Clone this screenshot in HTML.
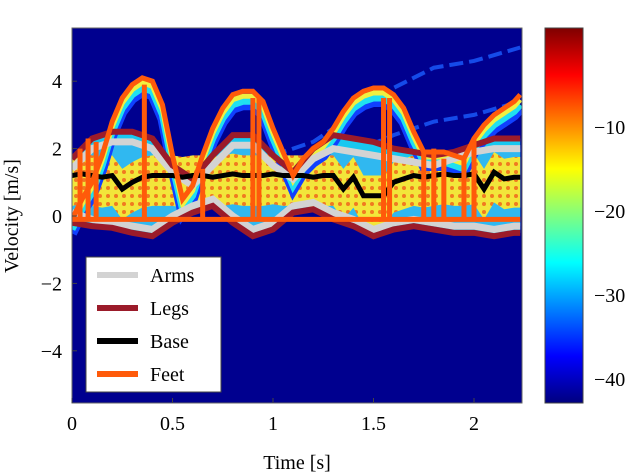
<!DOCTYPE html>
<html><head><meta charset="utf-8"><style>
body{margin:0;background:#fff;}
svg{display:block;font-family:"Liberation Serif",serif;}
</style></head><body>
<svg id="chart" width="640" height="474" viewBox="0 0 640 474" xmlns="http://www.w3.org/2000/svg">
<defs>
<clipPath id="clip"><rect x="72" y="28" width="450" height="375"/></clipPath>
<linearGradient id="jet" x1="0" y1="1" x2="0" y2="0">
<stop offset="0" stop-color="#00007f"/><stop offset="0.125" stop-color="#0000ff"/>
<stop offset="0.375" stop-color="#00ffff"/><stop offset="0.625" stop-color="#ffff00"/>
<stop offset="0.875" stop-color="#ff0000"/><stop offset="1" stop-color="#7f0000"/>
</linearGradient>
<pattern id="dots" width="8" height="8" patternUnits="userSpaceOnUse">
<rect width="8" height="8" fill="#f2e63a"/><circle cx="4" cy="4" r="2" fill="#f07a20"/>
</pattern>
</defs>
<rect x="72" y="28" width="450" height="375" fill="#00008f"/>
<g id="marks" clip-path="url(#clip)"></g>
<rect x="72" y="28" width="450" height="375" fill="none" stroke="#666" stroke-width="1"/>
<g id="axes"></g>
<text transform="translate(18,216) rotate(-90)" text-anchor="middle" font-size="20">Velocity [m/s]</text>
<text x="297" y="469" text-anchor="middle" font-size="20">Time [s]</text>
<rect x="545" y="28" width="38" height="375" fill="url(#jet)" stroke="#444"/>
<g>
<rect x="86" y="257" width="135" height="135" fill="#fff" stroke="#444"/>
<line x1="97" y1="275" x2="138" y2="275" stroke="#d3d3d3" stroke-width="6"/>
<text x="150" y="282" font-size="20">Arms</text>
<line x1="97" y1="308" x2="138" y2="308" stroke="#9b1b2a" stroke-width="6"/>
<text x="150" y="315" font-size="20">Legs</text>
<line x1="97" y1="341" x2="138" y2="341" stroke="#000" stroke-width="6"/>
<text x="150" y="348" font-size="20">Base</text>
<line x1="97" y1="374" x2="138" y2="374" stroke="#ff5a0a" stroke-width="6"/>
<text x="150" y="381" font-size="20">Feet</text>
</g>
</svg>
<script>
const xTicks=[0,0.5,1,1.5,2];
const xTickLabels=["0","0.5","1","1.5","2"];
const yTicks=[4,2,0,-2,-4];
const yTickLabels=["4","2","0","\u22122","\u22124"];
const cTicks=[-10,-20,-30,-40];
const cTickLabels=["\u221210","\u221220","\u221230","\u221240"];
const tFine=[0,0.05,0.1,0.15,0.2,0.25,0.3,0.35,0.4,0.45,0.5,0.55,0.6,0.65,0.7,0.75,0.8,0.85,0.9,0.95,1.0,1.05,1.1,1.15,1.2,1.25,1.3,1.35,1.4,1.45,1.5,1.55,1.6,1.65,1.7,1.75,1.8,1.85,1.9,1.95,2.0,2.05,2.1,2.15,2.2,2.23];
const feetArc=[-0.1,0.5,1.0,1.8,2.8,3.5,3.9,4.1,4.0,3.3,1.8,0.5,0.9,1.8,2.6,3.2,3.6,3.7,3.7,3.4,2.6,1.9,1.2,1.7,2.0,2.2,2.6,3.1,3.5,3.7,3.8,3.8,3.6,3.2,2.5,1.9,1.9,1.9,1.8,1.7,2.3,2.7,3.0,3.2,3.4,3.6];
const baseVel=[1.2,1.25,1.2,1.15,1.2,0.8,1.0,1.15,1.2,1.2,1.2,1.15,1.2,1.2,1.15,1.2,1.25,1.2,1.2,1.2,1.25,1.2,1.2,1.2,1.15,1.2,1.2,0.8,1.15,0.6,0.6,0.6,1.0,1.1,1.2,1.15,1.2,1.25,1.2,1.2,1.25,0.8,1.3,1.1,1.15,1.15];
const tCoarse=[0,0.1,0.2,0.3,0.4,0.5,0.6,0.7,0.8,0.9,1.0,1.1,1.2,1.3,1.4,1.5,1.6,1.7,1.8,1.9,2.0,2.1,2.2,2.23];
const legsUpper=[1.7,2.3,2.5,2.5,2.3,1.5,1.1,1.8,2.4,2.4,1.8,1.3,2.0,2.4,2.3,2.2,2.0,1.9,1.8,1.9,2.1,2.3,2.3,2.3];
const legsLower=[-0.2,-0.3,-0.35,-0.5,-0.6,-0.2,0.1,0.3,-0.2,-0.6,-0.4,0.1,0.2,-0.1,-0.3,-0.6,-0.4,-0.3,-0.4,-0.5,-0.5,-0.6,-0.5,-0.5];
const armsUpper=[1.4,2.0,2.2,2.2,2.0,1.3,0.9,1.5,2.1,2.1,1.5,1.1,1.7,2.0,1.9,1.8,1.7,1.6,1.5,1.7,1.9,2.0,2.0,2.0];
const armsLower=[0.1,-0.1,-0.2,-0.3,-0.4,0.0,0.3,0.5,0.0,-0.4,-0.2,0.3,0.4,0.1,-0.1,-0.4,-0.2,-0.1,-0.2,-0.3,-0.3,-0.4,-0.3,-0.3];
const spikeTimes=[0.04,0.08,0.12,0.36,0.65,0.9,0.93,1.55,1.58,1.75,1.8,1.85,1.95,2.0];
const spikeTops=[2.0,2.3,2.2,3.9,1.4,3.5,3.5,3.5,3.5,1.9,2.0,1.7,1.8,2.3];
const feetFloor=-0.1;
const streakT=[1.0,1.2,1.4,1.6,1.8,2.0,2.23];
const streakA=[1.8,2.2,3.0,3.8,4.4,4.6,5.0];
const streakB=[1.2,1.5,1.9,2.4,2.8,3.0,3.4];

const X=t=>72+t*201;
const Y=v=>216-v*33.7;
const C=v=>127-(v+10)*8.4;
const NS="http://www.w3.org/2000/svg";
const marks=document.getElementById('marks');
const axes=document.getElementById('axes');
function mk(tag,attrs,parent){const e=document.createElementNS(NS,tag);for(const k in attrs)e.setAttribute(k,attrs[k]);parent.appendChild(e);return e;}
function pts(ts,vs,dy){return ts.map((t,i)=>X(t)+','+(Y(vs[i])+(dy||0))).join(' ');}
function band(ts,up,lo){return ts.map((t,i)=>X(t)+','+Y(up[i])).concat(ts.map((t,i)=>X(t)+','+Y(lo[i])).reverse()).join(' ');}

let p;
[streakA,streakB].forEach(s=>{
  const l=mk('polyline',{points:pts(streakT,s),fill:'none',stroke:'#1a5cff','stroke-width':4,'stroke-dasharray':'14 6',opacity:0.8},marks);
  
  
});
p=mk('polygon',{points:band(tCoarse,legsUpper,legsLower),fill:'#18c8f0'},marks);


p=mk('polygon',{points:band(tCoarse,armsUpper,armsLower),fill:'#30b8f0'},marks);


p=mk('polygon',{points:band(tFine,baseVel.map(v=>v+0.6),baseVel.map(v=>v-0.9)),fill:'url(#dots)'},marks);


[[14,'#1040ff',10],[10,'#20e0f0',7],[5,'#f0f040',5]].forEach(([dy,c,w])=>{
  const l=mk('polyline',{points:pts(tFine,feetArc,dy),fill:'none',stroke:c,'stroke-width':w},marks);
  
  
});
[armsUpper,armsLower].forEach(a=>{
  const l=mk('polyline',{points:pts(tCoarse,a),fill:'none',stroke:'#d3d3d3','stroke-width':7},marks);
  
  
});
[legsUpper,legsLower].forEach(a=>{
  const l=mk('polyline',{points:pts(tCoarse,a),fill:'none',stroke:'#9b1b2a','stroke-width':6},marks);
  
  
});
let b=mk('polyline',{points:pts(tFine,baseVel),fill:'none',stroke:'#000','stroke-width':5},marks);


let f=mk('polyline',{points:pts(tFine,feetArc),fill:'none',stroke:'#ff5a0a','stroke-width':5},marks);


let ff=mk('line',{x1:X(0),x2:X(2.23),y1:Y(feetFloor),y2:Y(feetFloor),stroke:'#ff5a0a','stroke-width':5},marks);


spikeTimes.forEach((t,i)=>{
  const s=mk('line',{x1:X(t),x2:X(t),y1:Y(feetFloor),y2:Y(spikeTops[i]),stroke:'#ff5a0a','stroke-width':5},marks);
  
  
});
xTicks.forEach((t,i)=>{
  const l=mk('line',{x1:X(t),x2:X(t),y1:403,y2:398,stroke:'#444'},axes);
  
  
  const tx=mk('text',{x:X(t),y:430,'text-anchor':'middle','font-size':20},axes);
  tx.textContent=xTickLabels[i];
  
  
});
yTicks.forEach((v,i)=>{
  const l=mk('line',{x1:72,x2:77,y1:Y(v),y2:Y(v),stroke:'#444'},axes);
  
  
  const tx=mk('text',{x:62,y:Y(v)+7,'text-anchor':'end','font-size':20},axes);
  tx.textContent=yTickLabels[i];
  
  
});
cTicks.forEach((v,i)=>{
  const l=mk('line',{x1:578,x2:583,y1:C(v),y2:C(v),stroke:'#444'},axes);
  
  
  const tx=mk('text',{x:594,y:C(v)+7,'font-size':20},axes);
  tx.textContent=cTickLabels[i];
  
  
});
</script>
</body></html>
